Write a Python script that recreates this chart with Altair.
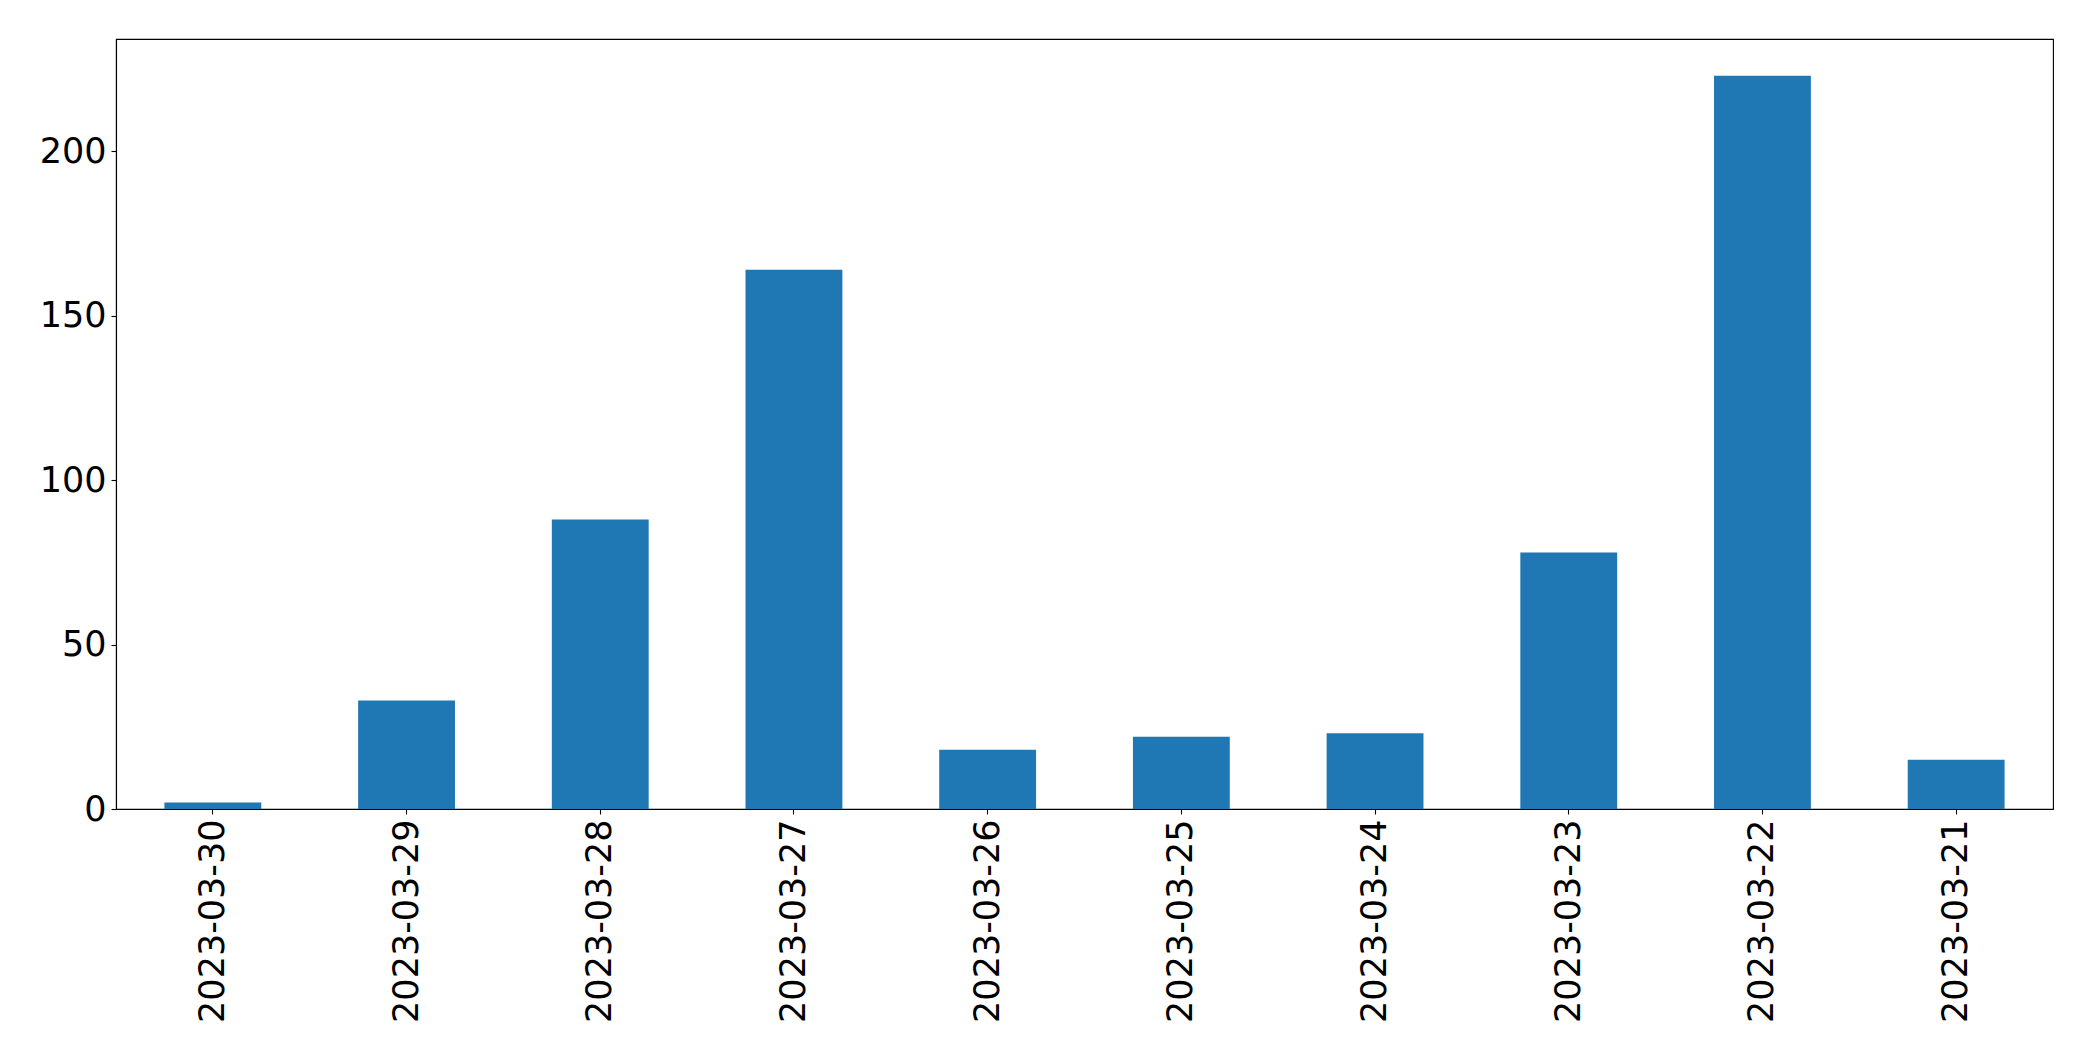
import altair as alt
import pandas as pd

dates = ["2023-03-30", "2023-03-29", "2023-03-28", "2023-03-27", "2023-03-26",
         "2023-03-25", "2023-03-24", "2023-03-23", "2023-03-22", "2023-03-21"]
counts = [2, 33, 88, 164, 18, 22, 23, 78, 223, 15]
y_ticks = [0, 50, 100, 150, 200]

df = pd.DataFrame({"date": dates, "count": counts})

FONT = "DejaVu Sans"
FS = 35

chart = alt.Chart(df).mark_bar(color="#1f77b4").encode(
    x=alt.X("date:N", sort=None, title=None,
            scale=alt.Scale(paddingInner=0.5, paddingOuter=0.25),
            axis=alt.Axis(labelAngle=270, labelAlign="right", labelBaseline="middle",
                          labelFont=FONT, labelFontSize=FS, labelColor="black", labelLimit=0,
                          tickColor="black", tickSize=5, tickWidth=1.1, labelPadding=5,
                          domainColor="black", domainWidth=1.1, grid=False)),
    y=alt.Y("count:Q", title=None,
            scale=alt.Scale(domain=[0, 234.15], nice=False, zero=True),
            axis=alt.Axis(values=y_ticks, labelFont=FONT, labelFontSize=FS, labelColor="black",
                          tickColor="black", tickSize=5, tickWidth=1.1, labelPadding=5,
                          domainColor="black", domainWidth=1.1, grid=False)),
).properties(
    width=1937,
    height=770,
    background="white",
    autosize=alt.AutoSizeParams(type="none"),
    padding={"left": 108, "top": 31, "right": 30, "bottom": 240},
).configure_view(
    stroke="black", strokeWidth=1.1
)

chart.save("out.html", embed_options={"renderer": "svg", "actions": False})
